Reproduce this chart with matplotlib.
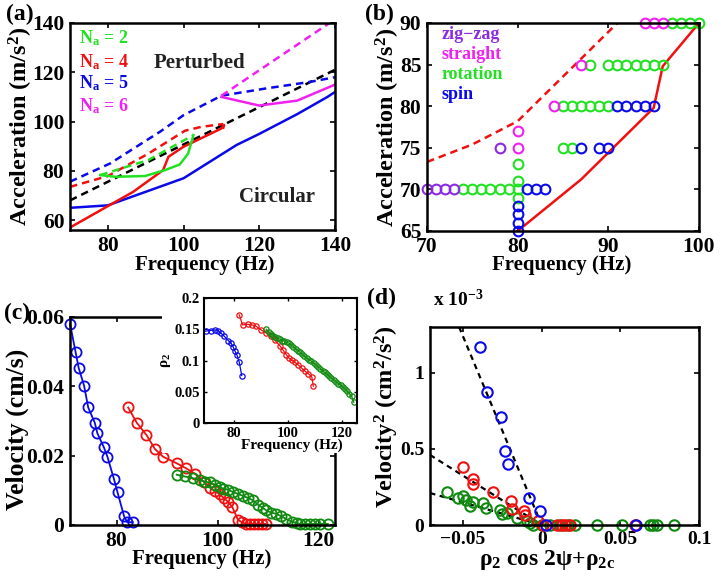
import matplotlib
matplotlib.use('Agg')
import matplotlib.pyplot as plt
from matplotlib.patches import Rectangle

plt.rcParams['font.family'] = ['Liberation Serif', 'DejaVu Serif']
plt.rcParams['font.weight'] = 'bold'
plt.rcParams['axes.labelweight'] = 'bold'
plt.rcParams['mathtext.fontset'] = 'custom'
plt.rcParams['mathtext.rm'] = 'Liberation Serif:bold'
plt.rcParams['mathtext.it'] = 'Liberation Serif:bold'
plt.rcParams['mathtext.bf'] = 'Liberation Serif:bold'

GREEN = '#22e022'
RED = '#f01010'
BLUE = '#0a0ae8'
MAG = '#f020f0'
PURPLE = '#8a2be2'
DGREEN = '#108a10'

# ---- (a) phase boundaries ----
a_blue_f = [70, 80, 100, 114, 120, 130, 138, 140]
a_blue_acc = [65, 66, 77, 90.5, 95, 103, 110, 112]
a_blue_dash_f = [70, 80.6, 93.8, 100, 110, 122, 133, 140]
a_blue_dash_acc = [75.6, 83, 95.9, 102.6, 110.5, 113.5, 116, 118]
a_red_f = [70, 86.7, 94.6, 96, 100, 110, 110.7, 110.5]
a_red_acc = [57, 71.5, 80.3, 85.7, 89.8, 97.2, 98.6, 97.5]
a_red_dash_f = [70, 80, 90.7, 100.4, 104.8, 110.5]
a_red_dash_acc = [73.5, 77.9, 87, 96.3, 97.9, 99]
a_green_f = [78, 81.9, 89.8, 95.1, 99, 101.2, 102.6]
a_green_acc = [78.3, 77.6, 77.9, 80.3, 82.6, 87, 94.5]
a_green_dash_f = [78, 90.7, 102.6]
a_green_dash_acc = [78.3, 84.4, 94.5]
a_black_dash_f = [70, 140]
a_black_dash_acc = [68, 121]
a_mag_f = [110, 120, 130, 140]
a_mag_acc = [110, 106.5, 108.5, 115]
a_mag_dash_f = [110, 140]
a_mag_dash_acc = [110.5, 141.5]

# ---- (b) regime map ----
zig_f = [70, 71, 72, 73, 78]
zig_acc = [70, 70, 70, 70, 75]
str_f = [80, 80, 84, 87, 94, 95, 96]
str_acc = [75, 77, 80, 85, 90, 90, 90]
rot_f = [74, 75, 76, 77, 78, 79, 80, 80, 80, 80, 85, 86, 87, 88, 89, 90, 85, 86,
         88, 90, 91, 92, 93, 94, 95, 96, 97, 98, 99, 100]
rot_acc = [70, 70, 70, 70, 70, 70, 70, 69, 71, 73, 80, 80, 80, 80, 80, 80, 75, 75,
           85, 85, 85, 85, 85, 85, 85, 85, 90, 90, 90, 90]
spin_f = [81, 82, 83, 80, 80, 80, 80, 87, 89, 90, 91, 92, 93, 94, 95]
spin_acc = [70, 70, 70, 65, 66, 67, 68, 75, 75, 75, 80, 80, 80, 80, 80]
b_lo_f = [80, 87, 95, 96, 100]
b_lo_acc = [65, 71.2, 79.8, 84.8, 90]
b_hi_f = [70, 75, 80, 91, 92]
b_hi_acc = [73.3, 75.4, 78.2, 90, 91.1]

# ---- (c) velocity vs frequency ----
c_blue_f = [70.8, 71.9, 72.5, 73.6, 74.4, 75.7, 76.2, 77.5, 78.2, 79.5, 80.2, 81.5, 82.1, 83.2]
c_blue_v = [0.0581, 0.0499, 0.0454, 0.0401, 0.0339, 0.0295, 0.0265, 0.0224, 0.0197,
            0.0132, 0.0094, 0.0025, 0.0008, 0.0008]
c_red_f = [82.3, 84.0, 85.9, 87.6, 89.2, 91.9, 93.7, 95.5, 97.2, 98.5, 99.5, 100.4,
           101.2, 102.1, 102.9, 104.0, 104.8, 105.6, 106.4, 107.2, 108.0, 108.8, 109.5]
c_red_v = [0.0339, 0.0295, 0.0260, 0.0219, 0.0197, 0.0178, 0.0164, 0.0148, 0.0125,
           0.0108, 0.0098, 0.0088, 0.0078, 0.0066, 0.0052, 0.0015, 0.0008, 0.0003,
           0.0003, 0.0003, 0.0003, 0.0003, 0.0003]
c_green_f = [91.9, 93.5, 95.1, 96.5, 97.5, 98.4, 99.4, 100.4, 101.1, 102.1, 103.0,
             104.0, 105.0, 106.0, 107.0, 108.0, 109.0, 109.6, 110.6, 111.6, 112.6,
             113.6, 114.6, 115.6, 116.2, 117.2, 118.2, 119.2, 120.2, 121.8]
c_green_v = [0.0145, 0.0140, 0.0135, 0.0130, 0.0125, 0.0123, 0.0116, 0.0111, 0.0104,
             0.0102, 0.0095, 0.0090, 0.0084, 0.0078, 0.0071, 0.0058, 0.0049, 0.0042,
             0.0036, 0.0032, 0.0025, 0.0017, 0.0010, 0.0006, 0.0003, 0.0003, 0.0003,
             0.0003, 0.0003, 0.0003]

# inset rho_2
i_blue_f = [69.4, 71.3, 72.8, 74.0, 75.0, 76.3, 77.8, 78.8, 79.6, 80.3, 81.0, 81.9, 82.8]
i_blue_r = [0.147, 0.148, 0.149, 0.148, 0.144, 0.139, 0.132, 0.128, 0.122, 0.115,
            0.109, 0.097, 0.076]
i_red_f = [81.9, 83.1, 85.0, 86.5, 88.1, 90.0, 91.9, 93.5, 95.0, 96.9, 98.1, 99.4,
           100.3, 101.3, 102.5, 103.8, 105.0, 106.3, 107.5, 108.8, 109.4]
i_red_r = [0.173, 0.157, 0.158, 0.157, 0.155, 0.149, 0.144, 0.139, 0.133, 0.124,
           0.117, 0.109, 0.104, 0.101, 0.097, 0.093, 0.088, 0.083, 0.079, 0.074, 0.059]
i_green_f = [91.9, 92.8, 93.6, 94.4, 95.3, 96.1, 97.0, 97.8, 98.6, 99.5, 100.3, 101.1,
             102.0, 102.8, 103.6, 104.5, 105.3, 106.1, 107.0, 107.8, 108.6, 109.5,
             110.3, 111.1, 112.0, 112.8, 113.6, 114.5, 115.3, 116.1, 117.0, 117.8,
             118.6, 119.5, 120.3, 121.1, 122.0, 122.8, 123.6, 124.4]
i_green_r = [0.150, 0.146, 0.143, 0.140, 0.138, 0.136, 0.134, 0.132, 0.131, 0.129,
             0.128, 0.125, 0.122, 0.119, 0.116, 0.113, 0.110, 0.107, 0.104, 0.101,
             0.099, 0.096, 0.093, 0.090, 0.087, 0.084, 0.081, 0.078, 0.075, 0.072,
             0.069, 0.066, 0.063, 0.061, 0.058, 0.055, 0.051, 0.047, 0.043, 0.033]

# ---- (d) velocity^2 (x 1e-3) vs rho_2 cos 2psi + rho_2c ----
d_blue_x = [-0.039, -0.0347, -0.026, -0.0234, -0.0215, -0.0078, -0.0011, 0.0027, 0.0600]
d_blue_y = [1.17, 0.87, 0.71, 0.489, 0.401, 0.177, 0.092, 0.0, 0.0]
d_red_x = [-0.050, -0.0436, -0.0436, -0.0309, -0.0196, -0.0187, -0.0111, -0.0107,
           -0.0021, 0.001, 0.0096, 0.0128, 0.0149, 0.018, 0.0595]
d_red_y = [0.384, 0.301, 0.270, 0.214, 0.155, 0.105, 0.089, 0.067, 0.024, 0.0, 0.0,
           0.0, 0.0, 0.0, 0.0]
d_green_x = [-0.0602, -0.0532, -0.050, -0.0483, -0.0457, -0.0436, -0.0372, -0.0351,
             -0.0266, -0.0255, -0.0223, -0.0159, -0.0096, -0.0075, -0.0054, 0.0,
             0.0053, 0.0117, 0.017, 0.0212, 0.035, 0.051, 0.069, 0.071, 0.073, 0.084]
d_green_y = [0.214, 0.177, 0.188, 0.166, 0.122, 0.148, 0.144, 0.111, 0.100, 0.074,
             0.079, 0.046, 0.024, 0.013, 0.0, 0.0, 0.0, 0.0, 0.0, 0.0, 0.0, 0.0, 0.0,
             0.0, 0.0, 0.0]
fit_blue_x = [-0.0525, 0.0]
fit_blue_y = [1.30, 0.0]
fit_red_x = [-0.071, 0.0]
fit_red_y = [0.46, 0.0]
fit_green_x = [-0.071, 0.0]
fit_green_y = [0.21, 0.0]

W, H = 721, 582
fig = plt.figure(figsize=(W / 100, H / 100), dpi=100)


def box(l, t, r, b):
    return [l / W, 1 - b / H, (r - l) / W, (b - t) / H]


def style(ax, fs):
    ax.tick_params(direction='in', top=True, right=True, length=3.5, width=1.2,
                   labelsize=fs, pad=4)
    for s in ax.spines.values():
        s.set_linewidth(1.8)


def labels(ax, xl, yl, xfs, yfs, xpos, ypos):
    ax.set_xlabel(xl, fontsize=xfs)
    ax.set_ylabel(yl, fontsize=yfs)
    ax.xaxis.set_label_coords(*xpos)
    ax.yaxis.set_label_coords(*ypos)
    ax.xaxis.label.set_va('center')
    ax.yaxis.label.set_va('center')


# (a)
ax1 = fig.add_axes(box(70, 23, 335, 230))
lw = 1.8
dsh = (3, 2)
ax1.plot(a_black_dash_f, a_black_dash_acc, '--', color='k', lw=lw, dashes=dsh)
ax1.plot(a_blue_f, a_blue_acc, '-', color=BLUE, lw=lw)
ax1.plot(a_blue_dash_f, a_blue_dash_acc, '--', color=BLUE, lw=lw, dashes=dsh)
ax1.plot(a_red_f, a_red_acc, '-', color=RED, lw=lw)
ax1.plot(a_red_dash_f, a_red_dash_acc, '--', color=RED, lw=lw, dashes=dsh)
ax1.plot(a_green_f, a_green_acc, '-', color=GREEN, lw=lw)
ax1.plot(a_green_dash_f, a_green_dash_acc, '--', color=GREEN, lw=lw, dashes=dsh)
ax1.plot(a_mag_f, a_mag_acc, '-', color=MAG, lw=lw)
ax1.plot(a_mag_dash_f, a_mag_dash_acc, '--', color=MAG, lw=lw, dashes=dsh)
ax1.set_xlim(70, 140)
ax1.set_ylim(56, 140)
ax1.set_xticks([80, 100, 120, 140])
ax1.set_yticks([60, 80, 100, 120, 140])
style(ax1, 15.5)
for txt, col, yy in [('2', GREEN, 0.901), ('4', RED, 0.788), ('5', BLUE, 0.684), ('6', MAG, 0.575)]:
    ax1.text(0.035, yy, 'N$_\\mathrm{a}$ = ' + txt, color=col, fontsize=13,
             transform=ax1.transAxes, va='baseline')
ax1.text(0.49, 0.805, 'Perturbed', transform=ax1.transAxes, ha='center', va='center',
         fontsize=15, color='#222222')
ax1.text(0.78, 0.161, 'Circular', transform=ax1.transAxes, ha='center', va='center',
         fontsize=15, color='#222222')
labels(ax1, 'Frequency (Hz)', 'Acceleration (m/s$^2$)', 15, 17.5, (0.51, -0.168), (-0.185, 0.5))

# (b)
ax2 = fig.add_axes(box(427, 23, 699, 231))
ax2.plot(b_hi_f, b_hi_acc, '--', color=RED, lw=lw, dashes=dsh)
ax2.plot(b_lo_f, b_lo_acc, '-', color=RED, lw=lw)
mk = dict(marker='o', ms=7, mfc='none', mew=1.5, ls='none', clip_on=False)
ax2.plot(rot_f, rot_acc, mec=GREEN, **mk)
ax2.plot(spin_f, spin_acc, mec=BLUE, **mk)
ax2.plot(zig_f, zig_acc, mec=PURPLE, **mk)
ax2.plot(str_f, str_acc, mec=MAG, **mk)
ax2.set_xlim(70, 100)
ax2.set_ylim(65, 90)
ax2.set_xticks([70, 80, 90, 100])
ax2.set_yticks([65, 70, 75, 80, 85, 90])
style(ax2, 15.5)
for txt, col, yy in [('zig\u2212zag', PURPLE, 0.922), ('straight', MAG, 0.826),
                     ('rotation', GREEN, 0.73), ('spin', BLUE, 0.635)]:
    ax2.text(0.055, yy, txt, color=col, fontsize=13, transform=ax2.transAxes,
             va='baseline')
labels(ax2, 'Frequency (Hz)', 'Acceleration (m/s$^2$)', 15, 17.5, (0.495, -0.162), (-0.145, 0.5))

# (c)
ax3 = fig.add_axes(box(70, 317, 335, 525))
ck = dict(marker='o', ms=7.3, mfc='none', mew=1.3, lw=1.3, clip_on=False)
ax3.plot(c_blue_f, c_blue_v, color=BLUE, **ck)
ax3.plot(c_red_f, c_red_v, color=RED, **ck)
ax3.plot(c_green_f, c_green_v, color=DGREEN, **ck)
ax3.set_xlim(70.8, 123.2)
ax3.set_ylim(0, 0.06)
ax3.set_xticks([80, 100, 120])
ax3.set_yticks([0, 0.02, 0.04, 0.06])
ax3.set_yticklabels(['0', '0.02', '0.04', '0.06'])
style(ax3, 15.5)
labels(ax3, 'Frequency (Hz)', 'Velocity (cm/s)', 15, 18.5, (0.497, -0.165), (-0.2, 0.46))

cover = Rectangle((162 / W, 1 - 453 / H), (360 - 162) / W, (453 - 290) / H,
                  transform=fig.transFigure, facecolor='white', edgecolor='none', zorder=1)
fig.patches.append(cover)

ax4 = fig.add_axes(box(204, 298, 357, 423))
ax4.set_zorder(2)
ik = dict(marker='o', ms=3.8, mfc='none', mew=0.9, lw=0.9, clip_on=False)
ax4.plot(i_blue_f, i_blue_r, color=BLUE, **ik)
ax4.plot(i_red_f, i_red_r, color=RED, **ik)
ax4.plot(i_green_f, i_green_r, color=DGREEN, **ik)
ax4.set_xlim(68.8, 125.6)
ax4.set_ylim(0, 0.2)
ax4.set_xticks([80, 100, 120])
ax4.set_yticks([0, 0.05, 0.1, 0.15, 0.2])
ax4.set_yticklabels(['0', '0.05', '0.1', '0.15', '0.2'])
ax4.tick_params(direction='in', top=True, right=True, length=2.5, width=1.0,
                labelsize=10.5, pad=3)
for s in ax4.spines.values():
    s.set_linewidth(1.5)
ax4.set_xlabel('Frequency (Hz)', fontsize=11)
ax4.xaxis.set_label_coords(0.575, -0.18)
ax4.xaxis.label.set_va('center')
ax4.set_ylabel(r'$\rho_2$', fontsize=11, labelpad=1)

# (d)
ax5 = fig.add_axes(box(430, 327, 699, 525))
dd = (2.5, 2)
ax5.plot(fit_blue_x, fit_blue_y, '--', color='k', lw=1.6, dashes=dd)
ax5.plot(fit_red_x, fit_red_y, '--', color='k', lw=1.6, dashes=dd)
ax5.plot(fit_green_x, fit_green_y, '--', color='k', lw=1.6, dashes=dd)
dk = dict(marker='o', ms=7.5, mfc='none', mew=1.5, ls='none', clip_on=False)
ax5.plot(d_green_x, d_green_y, mec=DGREEN, **dk)
ax5.plot(d_red_x, d_red_y, mec=RED, **dk)
ax5.plot(d_blue_x, d_blue_y, mec=BLUE, **dk)
ax5.set_xlim(-0.071, 0.1)
ax5.set_ylim(0, 1.3)
ax5.set_xticks([-0.05, 0, 0.05, 0.1])
ax5.set_xticklabels(['\u22120.05', '0', '0.05', '0.1'])
ax5.set_yticks([0, 0.5, 1])
ax5.set_yticklabels(['0', '0.5', '1'])
style(ax5, 14)
labels(ax5, r'$\rho_2$ cos 2$\psi$+$\rho_{2c}$', 'Velocity$^2$ (cm$^2$/s$^2$)', 17, 17.5,
       (0.435, -0.178), (-0.162, 0.545))
ax5.text(0.01, 1.105, 'x 10$^{-3}$', transform=ax5.transAxes, fontsize=14, va='baseline')

# panel labels
fig.text(6 / W, 1 - 14 / H, '(a)', fontsize=17, va='center')
fig.text(365 / W, 1 - 14 / H, '(b)', fontsize=17, va='center')
fig.text(4 / W, 1 - 313 / H, '(c)', fontsize=17, va='center')
fig.text(367 / W, 1 - 298 / H, '(d)', fontsize=17, va='center')

fig.savefig('out.png', dpi=100)
